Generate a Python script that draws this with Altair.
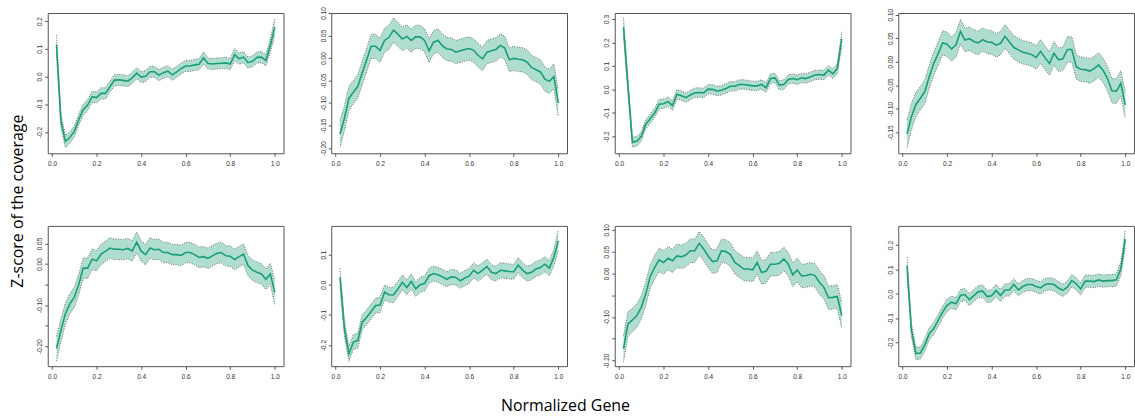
import altair as alt
import pandas as pd

GREEN = "#1B9E77"

x_pos = [round(0.02 * i, 2) for i in range(1, 51)]

mean_1 = [0.115, -0.16, -0.234, -0.22, -0.198, -0.156, -0.12, -0.103, -0.073, -0.076,
          -0.061, -0.061, -0.037, -0.013, -0.012, -0.014, -0.017, -0.005, 0.012, -0.002,
          0.001, 0.017, 0.017, 0.005, 0.014, 0.019, 0.006, 0.017, 0.029, 0.038,
          0.038, 0.042, 0.044, 0.067, 0.047, 0.045, 0.047, 0.048, 0.049, 0.045,
          0.079, 0.064, 0.07, 0.05, 0.055, 0.069, 0.07, 0.058, 0.112, 0.178]
half_1 = [0.035, 0.025, 0.022, 0.02, 0.02, 0.02, 0.02, 0.02, 0.02, 0.02,
          0.02, 0.02, 0.02, 0.02, 0.02, 0.02, 0.02, 0.02, 0.02, 0.02,
          0.02, 0.02, 0.02, 0.02, 0.02, 0.02, 0.02, 0.02, 0.02, 0.02,
          0.02, 0.02, 0.02, 0.022, 0.02, 0.02, 0.02, 0.02, 0.02, 0.02,
          0.022, 0.02, 0.02, 0.02, 0.02, 0.02, 0.02, 0.02, 0.025, 0.03]

mean_2 = [-0.169, -0.134, -0.09, -0.076, -0.063, -0.033, -0.004, 0.026, 0.026, 0.017,
          0.039, 0.046, 0.062, 0.053, 0.042, 0.048, 0.039, 0.047, 0.047, 0.039,
          0.016, 0.035, 0.039, 0.027, 0.02, 0.019, 0.013, 0.016, 0.019, 0.021,
          0.017, 0.006, -0.002, 0.013, 0.016, 0.019, 0.028, 0.022, -0.004, -0.001,
          -0.003, -0.004, -0.009, -0.021, -0.026, -0.031, -0.047, -0.052, -0.041, -0.10]
half_2 = [0.03, 0.028, 0.027, 0.026, 0.026, 0.026, 0.026, 0.027, 0.027, 0.027,
          0.027, 0.027, 0.027, 0.027, 0.026, 0.026, 0.026, 0.026, 0.026, 0.026,
          0.026, 0.026, 0.026, 0.026, 0.026, 0.026, 0.026, 0.026, 0.026, 0.026,
          0.026, 0.026, 0.026, 0.026, 0.026, 0.026, 0.026, 0.026, 0.026, 0.027,
          0.027, 0.027, 0.027, 0.027, 0.027, 0.027, 0.027, 0.027, 0.028, 0.03]

mean_3 = [0.265, 0.015, -0.224, -0.221, -0.2, -0.148, -0.125, -0.101, -0.063, -0.061,
          -0.052, -0.069, -0.021, -0.027, -0.035, -0.024, -0.014, -0.013, -0.015, 0.001,
          0.0, -0.007, -0.004, 0.004, 0.013, 0.013, 0.021, 0.021, 0.018, 0.015,
          0.015, 0.021, 0.007, 0.046, 0.049, 0.018, 0.021, 0.042, 0.046, 0.041,
          0.049, 0.046, 0.054, 0.061, 0.063, 0.061, 0.082, 0.066, 0.089, 0.215]
half_3 = [0.04, 0.03, 0.022, 0.02, 0.02, 0.02, 0.02, 0.02, 0.02, 0.02,
          0.02, 0.02, 0.02, 0.02, 0.02, 0.02, 0.02, 0.02, 0.02, 0.02,
          0.02, 0.02, 0.02, 0.02, 0.02, 0.02, 0.02, 0.02, 0.02, 0.02,
          0.02, 0.02, 0.02, 0.02, 0.02, 0.02, 0.02, 0.02, 0.02, 0.02,
          0.02, 0.02, 0.02, 0.02, 0.02, 0.02, 0.02, 0.02, 0.022, 0.03]

mean_4 = [-0.154, -0.117, -0.091, -0.078, -0.064, -0.032, -0.004, 0.017, 0.04, 0.037,
          0.027, 0.036, 0.064, 0.046, 0.049, 0.043, 0.04, 0.047, 0.042, 0.041,
          0.035, 0.039, 0.054, 0.042, 0.03, 0.025, 0.02, 0.018, 0.015, 0.009,
          0.022, 0.008, -0.004, 0.018, 0.004, 0.006, 0.026, 0.026, -0.011, -0.016,
          -0.017, -0.02, -0.015, -0.007, -0.018, -0.036, -0.062, -0.063, -0.046, -0.092]
half_4 = [0.03, 0.028, 0.026, 0.025, 0.025, 0.025, 0.025, 0.025, 0.026, 0.026,
          0.026, 0.026, 0.026, 0.025, 0.025, 0.025, 0.025, 0.025, 0.025, 0.025,
          0.025, 0.025, 0.025, 0.025, 0.025, 0.025, 0.025, 0.025, 0.025, 0.025,
          0.025, 0.025, 0.025, 0.025, 0.025, 0.025, 0.027, 0.027, 0.026, 0.026,
          0.026, 0.026, 0.026, 0.026, 0.026, 0.026, 0.026, 0.026, 0.027, 0.028]

mean_5 = [-0.206, -0.162, -0.121, -0.097, -0.081, -0.05, -0.01, -0.01, 0.012, 0.008,
          0.024, 0.031, 0.039, 0.036, 0.036, 0.035, 0.038, 0.032, 0.053, 0.032,
          0.023, 0.039, 0.035, 0.036, 0.028, 0.028, 0.023, 0.023, 0.021, 0.028,
          0.028, 0.023, 0.016, 0.018, 0.014, 0.02, 0.026, 0.028, 0.02, 0.019,
          0.011, 0.018, 0.024, -0.004, -0.015, -0.02, -0.024, -0.037, -0.024, -0.069]
half_5 = [0.03, 0.028, 0.026, 0.025, 0.025, 0.025, 0.025, 0.025, 0.025, 0.025,
          0.025, 0.025, 0.025, 0.025, 0.025, 0.025, 0.025, 0.025, 0.025, 0.025,
          0.025, 0.025, 0.025, 0.025, 0.025, 0.025, 0.025, 0.025, 0.025, 0.025,
          0.025, 0.025, 0.025, 0.025, 0.025, 0.025, 0.025, 0.025, 0.025, 0.025,
          0.025, 0.025, 0.025, 0.025, 0.025, 0.025, 0.025, 0.025, 0.026, 0.03]

mean_6 = [0.024, -0.146, -0.229, -0.19, -0.185, -0.124, -0.108, -0.089, -0.069, -0.067,
          -0.025, -0.033, -0.034, -0.014, 0.008, -0.009, 0.011, -0.014, 0.0, 0.004,
          0.03, 0.037, 0.033, 0.026, 0.018, 0.026, 0.024, 0.013, 0.022, 0.029,
          0.048, 0.037, 0.048, 0.06, 0.041, 0.037, 0.048, 0.046, 0.044, 0.043,
          0.065, 0.048, 0.037, 0.041, 0.052, 0.057, 0.068, 0.055, 0.09, 0.145]
half_6 = [0.03, 0.027, 0.025, 0.025, 0.025, 0.025, 0.025, 0.025, 0.025, 0.025,
          0.025, 0.025, 0.025, 0.025, 0.025, 0.025, 0.025, 0.025, 0.025, 0.025,
          0.025, 0.025, 0.025, 0.025, 0.025, 0.025, 0.025, 0.025, 0.025, 0.025,
          0.025, 0.025, 0.025, 0.025, 0.025, 0.025, 0.025, 0.025, 0.025, 0.025,
          0.025, 0.025, 0.025, 0.025, 0.025, 0.025, 0.025, 0.025, 0.028, 0.035]

mean_7 = [-0.173, -0.116, -0.107, -0.097, -0.078, -0.047, -0.007, 0.014, 0.031, 0.025,
          0.035, 0.029, 0.04, 0.038, 0.042, 0.052, 0.052, 0.069, 0.056, 0.04,
          0.027, 0.029, 0.052, 0.05, 0.043, 0.025, 0.018, 0.01, 0.01, 0.008,
          0.025, 0.002, 0.005, 0.021, 0.021, 0.023, 0.033, 0.021, -0.003, 0.008,
          -0.006, -0.005, -0.002, -0.005, -0.021, -0.032, -0.056, -0.055, -0.053, -0.097]
half_7 = [0.03, 0.028, 0.027, 0.027, 0.027, 0.027, 0.027, 0.027, 0.027, 0.027,
          0.027, 0.027, 0.027, 0.027, 0.027, 0.027, 0.027, 0.027, 0.027, 0.027,
          0.027, 0.027, 0.027, 0.027, 0.027, 0.027, 0.027, 0.027, 0.027, 0.027,
          0.027, 0.027, 0.027, 0.027, 0.027, 0.027, 0.027, 0.027, 0.027, 0.027,
          0.027, 0.027, 0.027, 0.027, 0.027, 0.027, 0.027, 0.027, 0.027, 0.03]

mean_8 = [0.115, -0.149, -0.244, -0.242, -0.21, -0.163, -0.142, -0.109, -0.075, -0.047,
          -0.034, -0.041, -0.007, -0.003, -0.024, -0.007, 0.009, 0.011, -0.011, -0.008,
          0.014, -0.007, 0.016, 0.016, 0.038, 0.016, 0.03, 0.038, 0.038, 0.03,
          0.024, 0.038, 0.041, 0.038, 0.024, 0.014, 0.027, 0.054, 0.041, 0.02,
          0.052, 0.052, 0.05, 0.057, 0.052, 0.054, 0.054, 0.057, 0.102, 0.224]
half_8 = [0.035, 0.028, 0.025, 0.025, 0.025, 0.025, 0.025, 0.025, 0.025, 0.025,
          0.025, 0.025, 0.025, 0.025, 0.025, 0.025, 0.025, 0.025, 0.025, 0.025,
          0.025, 0.025, 0.025, 0.025, 0.025, 0.025, 0.025, 0.025, 0.025, 0.025,
          0.025, 0.025, 0.025, 0.025, 0.025, 0.025, 0.025, 0.025, 0.025, 0.025,
          0.025, 0.025, 0.025, 0.025, 0.025, 0.025, 0.025, 0.025, 0.028, 0.035]

y_domains = [[-0.277, 0.229], [-0.212, 0.10], [-0.272, 0.325], [-0.195, 0.1035],
             [-0.249, 0.093], [-0.27, 0.195], [-0.213, 0.109], [-0.296, 0.278]]
y_ticks = [[-0.2, -0.1, 0.0, 0.1, 0.2],
           [-0.2, -0.15, -0.1, -0.05, 0.0, 0.05, 0.1],
           [-0.2, -0.1, 0.0, 0.1, 0.2, 0.3],
           [-0.15, -0.1, -0.05, 0.0, 0.05, 0.1],
           [-0.2, -0.15, -0.1, -0.05, 0.0, 0.05],
           [-0.2, -0.1, 0.0, 0.1],
           [-0.2, -0.15, -0.1, -0.05, 0.0, 0.05, 0.1],
           [-0.2, -0.1, 0.0, 0.1, 0.2]]
y_decimals = [1, 2, 1, 2, 2, 1, 2, 1]
y_hidden = [[], [], [], [], [-0.15, -0.05], [], [-0.15, -0.05], []]
x_ticks = [0.0, 0.2, 0.4, 0.6, 0.8, 1.0]

means = [mean_1, mean_2, mean_3, mean_4, mean_5, mean_6, mean_7, mean_8]
halves = [half_1, half_2, half_3, half_4, half_5, half_6, half_7, half_8]

W, H = 237, 141
TICK_FONT = "Liberation Sans"
TICK_SIZE = 6.5
BOX = "#555555"


def panel(k):
    m = means[k]
    h = halves[k]
    df = pd.DataFrame({
        "x": x_pos,
        "mean": m,
        "lo": [a - b for a, b in zip(m, h)],
        "hi": [a + b for a, b in zip(m, h)],
    })
    dec = y_decimals[k]
    hidden = " || ".join(f"abs(datum.value - ({v})) < 1e-6" for v in y_hidden[k])
    fmt = f"replace(format(datum.value, '.{dec}f'), '\u2212', '-')"
    label_expr = f"({hidden}) ? '' : {fmt}" if hidden else fmt
    xs = alt.Scale(domain=[-0.0192, 1.0392], nice=False, zero=False)
    ys = alt.Scale(domain=y_domains[k], nice=False, zero=False)
    common = dict(title=None, grid=False, domain=False, tickSize=3,
                  labelOverlap=False, labelFont=TICK_FONT,
                  labelFontSize=TICK_SIZE, labelColor="#333333",
                  tickColor=BOX, tickWidth=1)
    xaxis = alt.Axis(values=x_ticks, format=".1f", labelPadding=4, **common)
    yaxis = alt.Axis(values=y_ticks[k], labelExpr=label_expr, labelPadding=2,
                     labelAngle=270, labelAlign="center", labelBaseline="bottom",
                     **common)
    X = alt.X("x:Q", scale=xs, axis=xaxis)
    base = alt.Chart(df).properties(width=W, height=H)
    band = base.mark_area(color=GREEN, opacity=0.35).encode(
        x=X, y=alt.Y("lo:Q", scale=ys, axis=yaxis), y2="hi:Q")
    lo_line = base.mark_line(color="#6f6f6f", strokeDash=[1, 1.5], strokeWidth=1).encode(
        x=X, y=alt.Y("lo:Q", scale=ys, axis=yaxis))
    hi_line = base.mark_line(color="#6f6f6f", strokeDash=[1, 1.5], strokeWidth=1).encode(
        x=X, y=alt.Y("hi:Q", scale=ys, axis=yaxis))
    line = base.mark_line(color=GREEN, strokeWidth=1.6).encode(
        x=X, y=alt.Y("mean:Q", scale=ys, axis=yaxis))
    return alt.layer(band, lo_line, hi_line, line).properties(
        view=alt.ViewBackground(stroke=BOX, strokeWidth=1))


panels = [panel(k) for k in range(8)]
grid = alt.concat(
    *panels, columns=4, spacing={"row": 73, "column": 48}, bounds="flush",
    title=alt.TitleParams("Z-score of the coverage", orient="left", anchor="middle",
                          font="Open Sans", fontSize=16, fontWeight="normal",
                          color="#000000", offset=10, dx=-8),
)
chart = alt.hconcat(
    grid,
    title=alt.TitleParams("Normalized Gene", orient="bottom", anchor="middle",
                          font="Open Sans", fontSize=16, fontWeight="normal",
                          color="#000000", offset=18, dx=-7),
).properties(
    padding={"left": 10, "top": 5, "right": 0, "bottom": 0},
).configure_view(
    stroke=BOX, strokeWidth=1,
).configure(background="white")

chart.save("out.html", embed_options={"renderer": "svg", "actions": False})
